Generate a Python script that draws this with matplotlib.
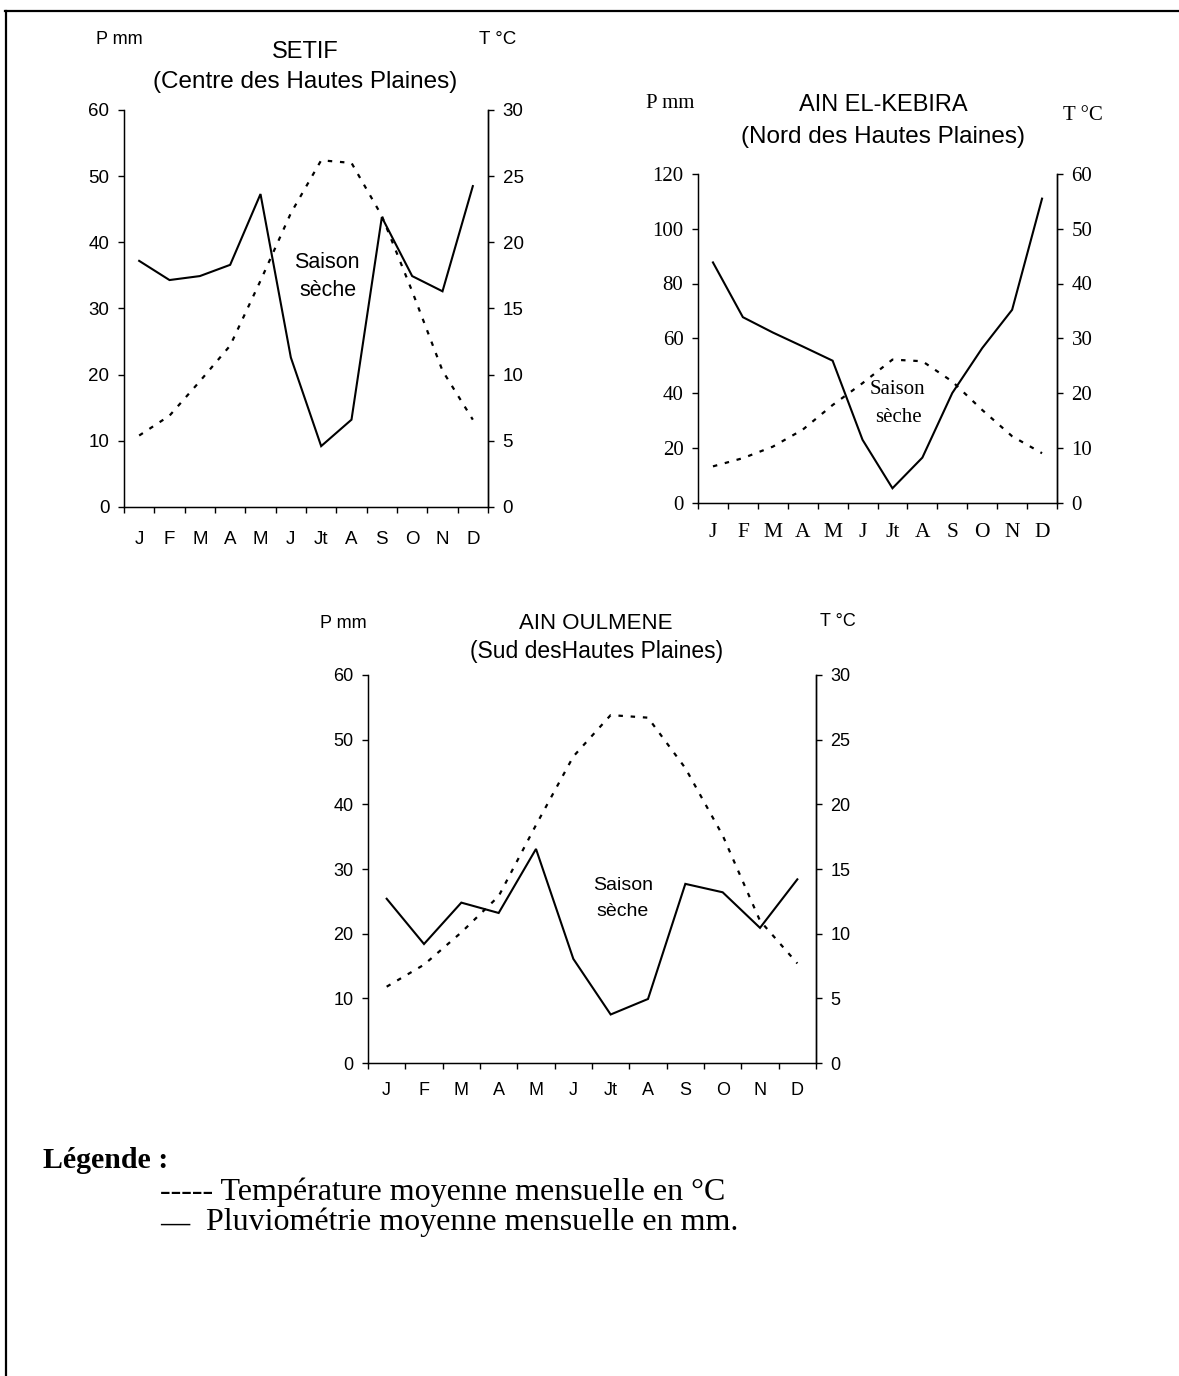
import matplotlib
matplotlib.use("Agg")
import matplotlib.pyplot as plt
import numpy as np
from matplotlib.lines import Line2D

W, H = 1179, 1376
SANS = "Liberation Sans"
SERIF = "Liberation Serif"

months = ["J", "F", "M", "A", "M", "J", "Jt", "A", "S", "O", "N", "D"]

# monthly rainfall (mm) and mean temperature (°C)
setif_precip = [37.2, 34.3, 34.9, 36.6, 47.3, 22.6, 9.2, 13.2, 43.8, 34.9, 32.6, 48.5]
setif_temp = [5.4, 6.9, 9.5, 12.2, 17.1, 22.2, 26.2, 26.0, 22.0, 16.3, 10.3, 6.6]

kebira_precip = [87.7, 67.7, 62.1, 57.0, 51.8, 22.9, 5.2, 16.4, 40.0, 56.4, 70.4, 111.0]
kebira_temp = [6.6, 8.1, 10.2, 13.3, 17.8, 21.8, 26.1, 25.8, 22.1, 16.9, 12.1, 9.0]

oulmene_precip = [25.4, 18.4, 24.8, 23.2, 33.1, 16.1, 7.5, 9.9, 27.7, 26.4, 20.9, 28.4]
oulmene_temp = [5.9, 7.6, 10.1, 12.9, 18.4, 23.7, 26.9, 26.7, 22.8, 17.6, 11.0, 7.7]


def px_rect(x0, y0, x1, y1):
    return [x0 / W, 1 - y1 / H, (x1 - x0) / W, (y1 - y0) / H]


def put_text(fig, x, y, s, ha="center", **kw):
    fig.text(x / W, 1 - y / H, s, ha=ha, va="center", **kw)


def ombro_chart(fig, rect, precip, temp, pmax, pstep, family, fs, mfs, month_pad):
    """P = 2T diagram: rainfall on the left axis, temperature on the right."""
    x = np.arange(len(months))
    ax = fig.add_axes(rect)
    ax.plot(x, precip, color="black", lw=1.5, solid_joinstyle="miter")
    ax.set_xlim(-0.5, 11.5)
    ax.set_ylim(0, pmax)
    ax.set_yticks(np.arange(0, pmax + 1, pstep))
    ax.set_xticks(x)
    ax.set_xticklabels(months)
    ax.set_xticks(np.arange(-0.5, 12, 1), minor=True)
    ax.tick_params(axis="x", which="major", length=0, pad=month_pad,
                   labelsize=mfs, labelfontfamily=family)
    ax.tick_params(axis="x", which="minor", length=4, width=1, direction="out")
    ax.tick_params(axis="y", length=4.5, width=1, direction="out", pad=6,
                   labelsize=fs, labelfontfamily=family)
    ax.spines["top"].set_visible(False)
    for sp in ("left", "bottom", "right"):
        ax.spines[sp].set_linewidth(1.0)

    ax2 = ax.twinx()
    ax2.plot(x, temp, color="black", lw=1.6, ls=(0, (2, 3.5)))
    ax2.set_ylim(0, pmax / 2)
    ax2.set_yticks(np.arange(0, pmax / 2 + 1, pstep / 2))
    ax2.tick_params(axis="y", length=4.5, width=1, direction="out", pad=6,
                    labelsize=fs, labelfontfamily=family)
    ax2.spines["top"].set_visible(False)
    ax2.spines["right"].set_linewidth(1.0)
    return ax, ax2


fig = plt.figure(figsize=(W / 100, H / 100), dpi=100)

# SETIF
ombro_chart(fig, px_rect(124, 110, 488, 507), setif_precip, setif_temp,
            60, 10, SANS, 13.5, 13.5, 17)
put_text(fig, 119, 40, "P mm", family=SANS, fontsize=13)
put_text(fig, 498, 40, "T °C", family=SANS, fontsize=13.5)
put_text(fig, 305, 52, "SETIF", family=SANS, fontsize=17)
put_text(fig, 305, 82, "(Centre des Hautes Plaines)", family=SANS, fontsize=17.5)
put_text(fig, 327, 263, "Saison", family=SANS, fontsize=15.5)
put_text(fig, 328, 291, "sèche", family=SANS, fontsize=15.5)

# AIN EL-KEBIRA
ombro_chart(fig, px_rect(698, 174, 1057, 502.5), kebira_precip, kebira_temp,
            120, 20, SERIF, 15, 15.5, 15)
put_text(fig, 670, 103, "P mm", family=SERIF, fontsize=15)
put_text(fig, 1083, 115, "T °C", family=SERIF, fontsize=15)
put_text(fig, 883, 105, "AIN EL-KEBIRA", family=SANS, fontsize=17)
put_text(fig, 883, 137, "(Nord des Hautes Plaines)", family=SANS, fontsize=17.5)
put_text(fig, 897, 390, "Saison", family=SERIF, fontsize=15)
put_text(fig, 898, 418, "sèche", family=SERIF, fontsize=15)

# AIN OULMENE
ombro_chart(fig, px_rect(368, 675, 816, 1063), oulmene_precip, oulmene_temp,
            60, 10, SANS, 13, 13, 13.5)
put_text(fig, 343, 623, "P mm", family=SANS, fontsize=13)
put_text(fig, 838, 622, "T °C", family=SANS, fontsize=13)
put_text(fig, 596, 623, "AIN OULMENE", family=SANS, fontsize=16)
put_text(fig, 597, 652, "(Sud desHautes Plaines)", family=SANS, fontsize=16.5)
put_text(fig, 623, 885, "Saison", family=SANS, fontsize=14)
put_text(fig, 623, 911, "sèche", family=SANS, fontsize=14)

# legend block
put_text(fig, 43, 1161, "Légende :", ha="left", family=SERIF, fontsize=21.5,
         fontweight="bold")
put_text(fig, 160, 1192, "----- Température moyenne mensuelle en °C", ha="left",
         family=SERIF, fontsize=23)
put_text(fig, 160, 1224, "—", ha="left", family=SERIF, fontsize=21,
         fontweight="bold")
put_text(fig, 206, 1222, "Pluviométrie moyenne mensuelle en mm.", ha="left",
         family=SERIF, fontsize=23)

# page frame (top and left edges)
fig.add_artist(Line2D([5 / W, 1], [1 - 11 / H, 1 - 11 / H], color="black", lw=1.6))
fig.add_artist(Line2D([6 / W, 6 / W], [0, 1 - 11 / H], color="black", lw=1.6))

fig.savefig("out.png", dpi=100)
